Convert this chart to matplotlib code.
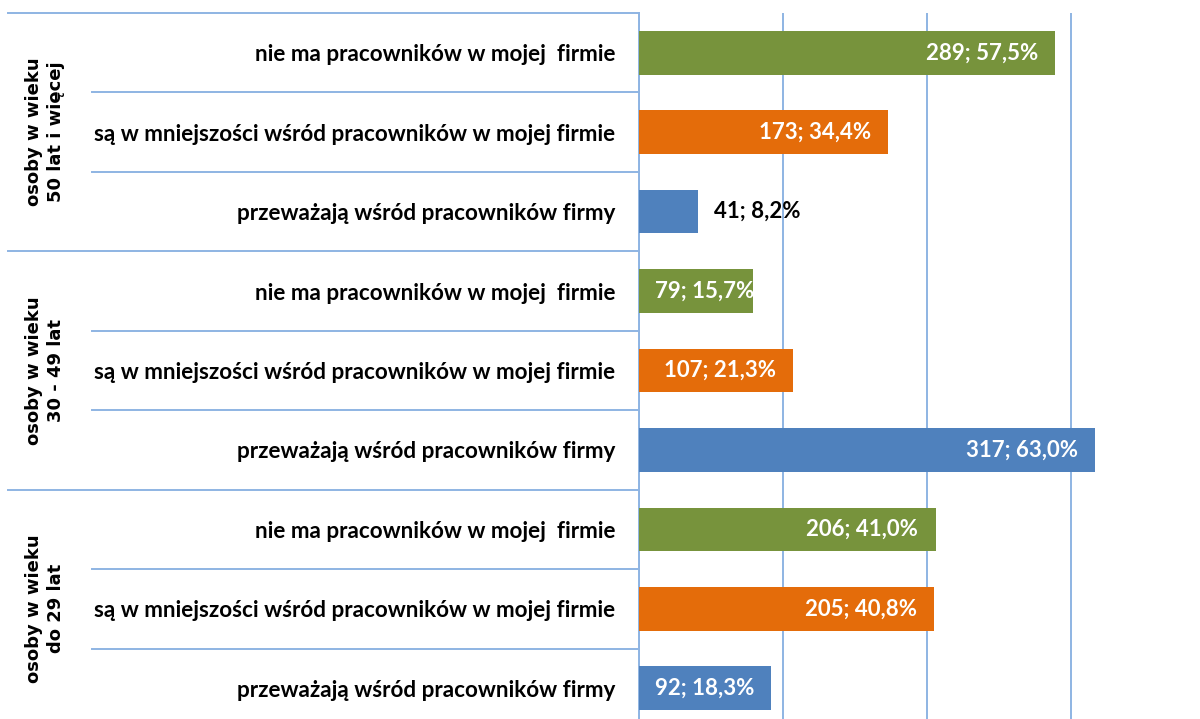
"""Struktura wiekowa pracowników - wykres słupkowy"""
import matplotlib
matplotlib.use('Agg')
import matplotlib.pyplot as plt
from matplotlib.transforms import blended_transform_factory

plt.rcParams['font.family'] = ['Lato', 'DejaVu Sans']

# kategorie od góry do dołu
groups = ['osoby w wieku\n50 lat i więcej', 'osoby w wieku\n30 - 49 lat', 'osoby w wieku\ndo 29 lat']
answers = ['nie ma pracowników w mojej  firmie',
           'są w mniejszości wśród pracowników w mojej firmie',
           'przeważają wśród pracowników firmy']
counts = [289, 173, 41, 79, 107, 317, 206, 205, 92]
percents = [57.5, 34.4, 8.2, 15.7, 21.3, 63.0, 41.0, 40.8, 18.3]

colors = ['#77933C', '#E46C0A', '#4F81BD']
grid_col = '#8EB4E3'

fig = plt.figure(figsize=(12, 7.19), dpi=100)
W, H = 1200, 719
ax = fig.add_axes([639 / W, (H - 728) / H, 576 / W, 715 / H])

n = len(counts)
ypos = list(range(n))
labels = answers * len(groups)
bar_colors = colors * len(groups)

ax.barh(ypos, counts, height=0.55, color=bar_colors, zorder=3)
ax.set_ylim(n - 0.5, -0.5)
ax.set_xlim(0, 400)
ax.set_xticks([0, 100, 200, 300, 400])
ax.tick_params(axis='x', labelbottom=False, length=0)
ax.set_yticks(ypos)
ax.set_yticklabels(labels, fontsize=16.2, fontweight='bold')
ax.tick_params(axis='y', length=0, pad=17)
ax.grid(True, axis='x', color=grid_col, linewidth=1.4, zorder=0)
for s in ['top', 'right', 'bottom']:
    ax.spines[s].set_visible(False)
ax.spines['left'].set_color(grid_col)
ax.spines['left'].set_linewidth(1.4)

# etykiety wartości
for y, c, p in zip(ypos, counts, percents):
    txt = f'{c}; {p:.1f}%'.replace('.', ',')
    if c < 60:
        ax.text(c + 11, y, txt, ha='left', va='center', fontsize=16,
                fontweight='bold', color='black', zorder=4)
    elif c < 100:
        ax.text(11, y, txt, ha='left', va='center', fontsize=16,
                fontweight='bold', color='white', zorder=4)
    else:
        ax.text(c - 12, y, txt, ha='right', va='center', fontsize=16,
                fontweight='bold', color='white', zorder=4)

# linie podziału w lewej części
tr = blended_transform_factory(fig.transFigure, ax.transData)
for i in range(n):
    edge = i - 0.5
    x0 = 8 / W if i % 3 == 0 else 92 / W
    ax.plot([x0, 639 / W], [edge, edge], color=grid_col, linewidth=1.4,
            transform=tr, clip_on=False)

# etykiety grup
for g, name in enumerate(groups):
    fig.text(45 / W, 3 * g + 1, name, transform=tr, rotation=90,
             ha='center', va='center', fontsize=13, fontweight='bold',
             family='DejaVu Sans', multialignment='center', linespacing=1.25)

plt.savefig('out.png', dpi=100)
plt.close()
